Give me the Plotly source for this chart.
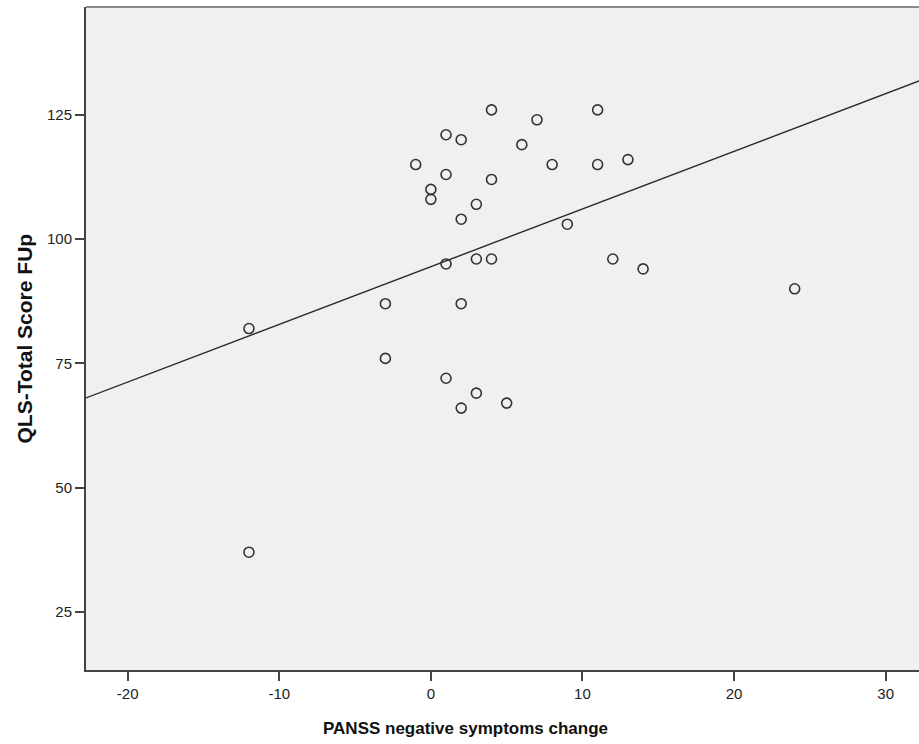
import numpy as np
import plotly.graph_objects as go

panss_change = [-12, -12, -3, -3, -1, 0, 0, 1, 1, 1, 1, 2, 2, 2, 2, 3, 3, 3,
                4, 4, 4, 5, 6, 7, 8, 9, 11, 11, 12, 13, 14, 24]
qls_total = [82, 37, 87, 76, 115, 110, 108, 121, 113, 95, 72, 120, 104, 87, 66, 107, 96, 69,
             126, 112, 96, 67, 119, 124, 115, 103, 126, 115, 96, 116, 94, 90]

x_range = [-22.75, 32.2]
y_range = [13.3, 146.7]
x_ticks = [-20, -10, 0, 10, 20, 30]
x_tick_labels = ["-20", "-10", "0", "10", "20", "30"]
y_ticks = [25, 50, 75, 100, 125]
y_tick_labels = ["25", "50", "75", "100", "125"]

slope, intercept = np.polyfit(panss_change, qls_total, 1)
line_x = np.array(x_range)
line_y = slope * line_x + intercept

fig = go.Figure()
fig.add_trace(go.Scatter(
    x=line_x, y=line_y, mode="lines",
    line=dict(color="#2a2a2a", width=1.4), hoverinfo="skip", showlegend=False))
fig.add_trace(go.Scatter(
    x=panss_change, y=qls_total, mode="markers",
    marker=dict(symbol="circle-open", size=10, color="#333333", line=dict(width=1.6, color="#333333")),
    showlegend=False))

fig.add_shape(type="line", xref="paper", yref="paper", x0=0, x1=1, y0=1, y1=1,
              line=dict(color="#8a8a8a", width=2))

fig.add_annotation(text="<b>PANSS negative symptoms change</b>", xref="paper", yref="paper",
                   x=0.4556, y=0, yshift=-58, xanchor="center", yanchor="middle", showarrow=False,
                   font=dict(size=17, color="#111111"))
fig.add_annotation(text="<b>QLS-Total Score FUp</b>", xref="paper", yref="paper",
                   x=0, xshift=-62, y=0.5, xanchor="center", yanchor="middle", showarrow=False,
                   textangle=-90, font=dict(size=21, color="#111111"))

fig.update_layout(
    width=919, height=744,
    margin=dict(l=86, r=0, t=7, b=74),
    paper_bgcolor="white", plot_bgcolor="#f0f0f0",
    font=dict(family="Arial, Liberation Sans, sans-serif", color="#222222"),
    xaxis=dict(range=x_range, tickvals=x_ticks, ticktext=x_tick_labels, showgrid=False, zeroline=False,
               showline=True, linecolor="#444444", linewidth=2,
               ticks="outside", ticklen=9, tickwidth=2, tickcolor="#444444",
               tickfont=dict(size=15, color="#222222")),
    yaxis=dict(range=y_range, tickvals=y_ticks, ticktext=y_tick_labels, showgrid=False, zeroline=False,
               showline=True, linecolor="#444444", linewidth=2,
               ticks="outside", ticklen=9, tickwidth=2, tickcolor="#444444",
               tickfont=dict(size=15, color="#222222")),
)

fig.write_html("out.html", config={"displayModeBar": False},
               post_script="document.body.style.margin='0';document.body.style.overflow='hidden';")
